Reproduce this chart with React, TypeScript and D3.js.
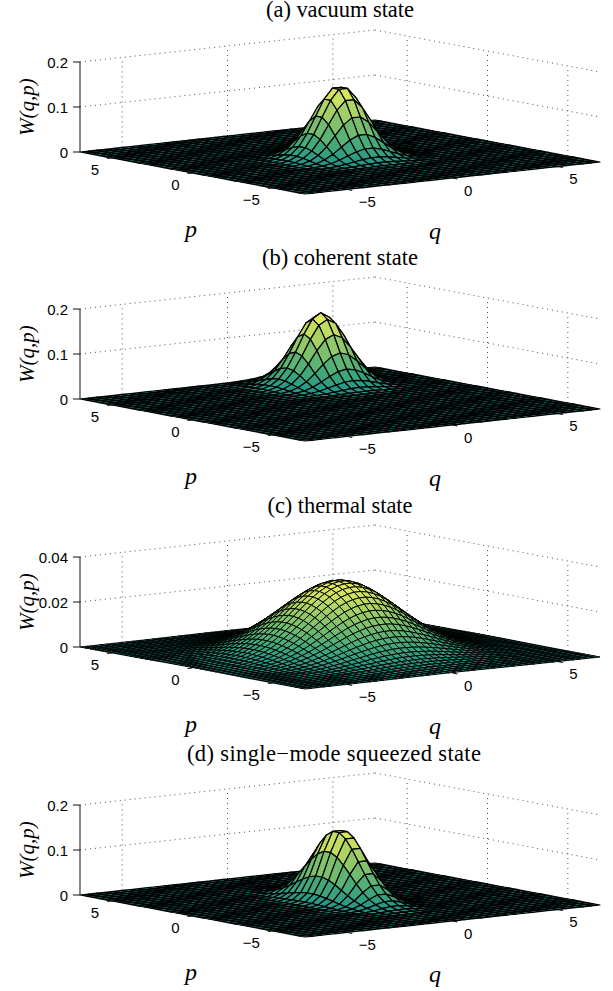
import React, { useEffect, useRef } from 'react';
import * as d3 from 'd3';

// relative height of the surface along each grid line, q or p running evenly from -7 to 7
const vacuumSlice = [0, 0, 0, 0, 0, 0, 0, 0, .001, .003, .011, .034, .089, .198, .375, .607, .835, .98,
  .98, .835, .607, .375, .198, .089, .034, .011, .003, .001, 0, 0, 0, 0, 0, 0, 0, 0];
const coherentQ = [0, 0, 0, 0, 0, 0, 0, 0, 0, 0, 0, 0, 0, 0, 0, .002, .006, .02, .056, .135, .278, .487, .726, .923,
  1, .923, .726, .487, .278, .135, .056, .02, .006, .002, 0, 0];
const coherentP = [0, 0, 0, 0, 0, 0, 0, 0, 0, 0, 0, 0, 0, 0, 0, 0, 0, 0, 0, 0, .002, .006, .02, .056, .135, .278, .487, .726, .923,
  1, .923, .726, .487, .278, .135, .056];
// thermal mesh is finer than the others
const thermalSlice = [.007, .011, .017, .025, .036, .052, .072, .098, .131, .171, .22, .278, .344, .417, .497, .58, .664, .746, .822, .888, .941, .978, .998,
  .998, .978, .941, .888, .822, .746, .664, .58, .497, .417, .344, .278, .22, .171, .131, .098, .072, .052, .036, .025, .017, .011, .007];
const squeezedQ = [0, 0, 0, 0, 0, 0, 0, 0, 0, 0, 0, .001, .007, .037, .135, .36, .693, .96,
  .96, .693, .36, .135, .037, .007, .001, 0, 0, 0, 0, 0, 0, 0, 0, 0, 0, 0];
const squeezedP = [0, 0, 0, 0, .001, .002, .006, .013, .029, .059, .111, .192, .306, .453, .619, .783, .916, .99,
  .99, .916, .783, .619, .453, .306, .192, .111, .059, .029, .013, .006, .002, .001, 0, 0, 0, 0];

const titles = ['(a) vacuum state', '(b) coherent state', '(c) thermal state', '(d) single\u2212mode squeezed state'];
const peaks = [0.159, 0.159, 0.0318, 0.16];
const zMaxes = [0.2, 0.2, 0.04, 0.2];
const zTicks = [[0, 0.1, 0.2], [0, 0.1, 0.2], [0, 0.02, 0.04], [0, 0.1, 0.2]];
const zTickLabels = [['0', '0.1', '0.2'], ['0', '0.1', '0.2'], ['0', '0.02', '0.04'], ['0', '0.1', '0.2']];
const qSlices = [vacuumSlice, coherentQ, thermalSlice, squeezedQ];
const pSlices = [vacuumSlice, coherentP, thermalSlice, squeezedP];
const panelTops = [0, 247, 495, 743];
const titleYs = [17, 265, 513, 761];
const titleXs = [340, 340, 340, 334];
const titleWidths = [148, 156, 145, 294];
const meshWidths = [1.2, 1.2, 0.95, 1.2];
const axisTicks = [-5, 0, 5];
const fmt = (t: number) => (t < 0 ? `\u2212${-t}` : `${t}`);

const SANS = '"Liberation Sans", Arial, sans-serif';
const SERIF = '"Liberation Serif", "Times New Roman", serif';

export default function App() {
  const ref = useRef<SVGSVGElement>(null);

  useEffect(() => {
    const svg = d3.select(ref.current);
    svg.selectAll('*').remove();

    // oblique view: each data axis adds its own screen offset
    const qx = d3.scaleLinear().domain([-7, 7]).range([-147.5, 147.5]);
    const qy = d3.scaleLinear().domain([-7, 7]).range([16, -16]);
    const px = d3.scaleLinear().domain([-7, 7]).range([112.5, -112.5]);
    const py = d3.scaleLinear().domain([-7, 7]).range([21, -21]);
    const cx = 340;
    const cy = 157;

    const color = d3.scaleLinear<string>()
      .domain([0, 0.25, 0.5, 0.75, 1])
      .range(['#1f9488', '#43a97a', '#7dc06c', '#b8d862', '#f0f05a']);
    const line = d3.line();

    titles.forEach((title, k) => {
      const z = d3.scaleLinear().domain([0, zMaxes[k]]).range([0, 90]);
      const project = (q: number, p: number, h = 0): [number, number] =>
        [cx + qx(q) + px(p), cy + qy(q) + py(p) - z(h)];
      const g = svg.append('g').attr('transform', `translate(0,${panelTops[k]})`);
      const top = zMaxes[k];
      const n = qSlices[k].length;
      const grid = d3.range(n).map(i => -7 + (i * 14) / (n - 1));

      svg.append('text')
        .attr('x', titleXs[k]).attr('y', titleYs[k])
        .attr('text-anchor', 'middle')
        .attr('textLength', titleWidths[k])
        .attr('font-family', SERIF).attr('font-size', 22.5)
        .text(title);

      // dotted walls
      const dotted = (pts: [number, number][]) => g.append('path')
        .attr('d', line(pts))
        .attr('fill', 'none').attr('stroke', '#222').attr('stroke-width', 0.8)
        .attr('stroke-dasharray', '1 4');
      zTicks[k].forEach(t => {
        if (t === 0) return;
        dotted([project(-7, 7, t), project(7, 7, t)]);
        dotted([project(7, 7, t), project(7, -7, t)]);
      });
      axisTicks.forEach(t => {
        dotted([project(t, 7, 0), project(t, 7, top)]);
        dotted([project(7, t, 0), project(7, t, top)]);
      });

      // surface, back corner first so nearer cells cover farther ones
      const cells: { pts: [number, number][]; v: number }[] = [];
      for (let i = n - 2; i >= 0; i--) {
        for (let j = n - 2; j >= 0; j--) {
          const h = (a: number, b: number) => peaks[k] * qSlices[k][a] * pSlices[k][b];
          cells.push({
            pts: [
              project(grid[i], grid[j], h(i, j)),
              project(grid[i + 1], grid[j], h(i + 1, j)),
              project(grid[i + 1], grid[j + 1], h(i + 1, j + 1)),
              project(grid[i], grid[j + 1], h(i, j + 1)),
            ],
            v: (h(i, j) + h(i + 1, j) + h(i + 1, j + 1) + h(i, j + 1)) / 4 / peaks[k],
          });
        }
      }
      g.append('g').selectAll('path').data(cells).enter().append('path')
        .attr('d', d => line(d.pts) + 'Z')
        .attr('fill', d => color(d.v))
        .attr('stroke', '#000').attr('stroke-width', meshWidths[k])
        .attr('stroke-linejoin', 'round');

      // z axis
      g.append('path')
        .attr('d', line([project(-7, 7, 0), project(-7, 7, top)]))
        .attr('stroke', '#111').attr('fill', 'none');
      zTicks[k].forEach((t, i) => {
        const [x, y] = project(-7, 7, t);
        g.append('line').attr('x1', x - 7).attr('x2', x).attr('y1', y).attr('y2', y).attr('stroke', '#111');
        g.append('text')
          .attr('x', x - 12).attr('y', y + 5.5)
          .attr('text-anchor', 'end')
          .attr('font-family', SANS).attr('font-size', 15)
          .text(zTickLabels[k][i]);
      });

      // floor axes ticks and labels
      axisTicks.forEach(t => {
        const [x1, y1] = project(-7, t);
        g.append('line').attr('x1', x1).attr('y1', y1).attr('x2', x1 - 5).attr('y2', y1 + 0.5).attr('stroke', '#111');
        g.append('text')
          .attr('x', x1 - 13).attr('y', y1 + 16.5)
          .attr('text-anchor', 'end')
          .attr('font-family', SANS).attr('font-size', 15)
          .text(fmt(t));
        const [x2, y2] = project(t, -7);
        g.append('line').attr('x1', x2).attr('y1', y2).attr('x2', x2 + 5).attr('y2', y2 + 1).attr('stroke', '#111');
        g.append('text')
          .attr('x', x2 + 11.5).attr('y', y2 + 17.5)
          .attr('text-anchor', 'start')
          .attr('font-family', SANS).attr('font-size', 15)
          .text(fmt(t));
      });

      // axis titles
      g.append('text')
        .attr('x', 34).attr('y', 107)
        .attr('transform', `rotate(-90,34,107)`)
        .attr('text-anchor', 'middle')
        .attr('font-family', SERIF).attr('font-style', 'italic').attr('font-size', 21)
        .text('W(q,p)');
      g.append('text').attr('x', 191).attr('y', 237)
        .attr('text-anchor', 'middle')
        .attr('font-family', SERIF).attr('font-style', 'italic').attr('font-size', 24)
        .text('p');
      g.append('text').attr('x', 435).attr('y', 239)
        .attr('text-anchor', 'middle')
        .attr('font-family', SERIF).attr('font-style', 'italic').attr('font-size', 24)
        .text('q');
    });
  }, []);

  return (
    <svg ref={ref} width={613} height={991}
      style={{ position: 'absolute', left: 0, top: 0, background: '#fff' }} />
  );
}
